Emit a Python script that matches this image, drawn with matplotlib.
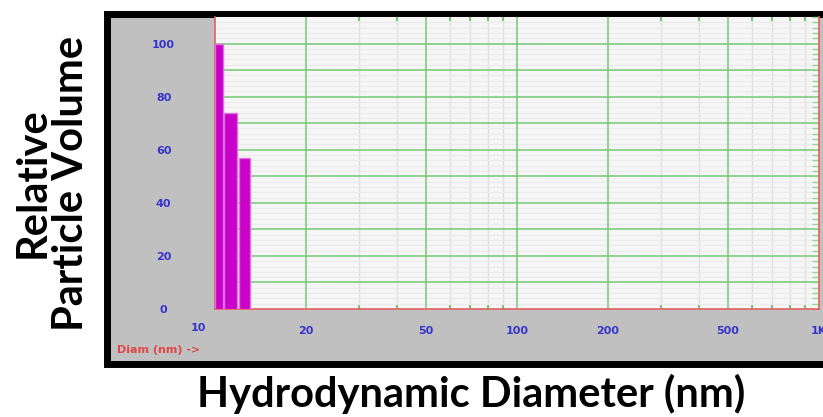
import matplotlib.pyplot as plt
from matplotlib.patches import Rectangle
from matplotlib.ticker import FixedLocator, MultipleLocator, NullFormatter

# bins de diametro (nm) y volumen relativo
bin_left = [10.0, 10.7, 12.0]
bin_right = [10.6, 11.8, 13.1]
volumen = [100, 74, 57]

xticks = [20, 50, 100, 200, 500, 1000]
xticklabels = ['20', '50', '100', '200', '500', '1K']
yticks = [0, 20, 40, 60, 80, 100]

W, H = 823, 417
fig = plt.figure(figsize=(W / 100, H / 100), dpi=100)

# marco gris con borde negro
fig.patches.append(Rectangle((107.5 / W, 1 - 363.5 / H), 740 / W, 350 / H,
                             transform=fig.transFigure, facecolor='#c0c0c0',
                             edgecolor='black', linewidth=5, zorder=-5))

ax = fig.add_axes([215 / W, 1 - 309 / H, 604 / W, 292 / H])
ax.set_zorder(2)
ax.set_facecolor('#f6f6f6')
ax.set_xscale('log')
ax.set_xlim(10, 1000)
ax.set_ylim(0, 110)

# rejilla
verde = '#74c874'
for v in [20, 50, 100, 200, 500]:
    ax.axvline(v, color=verde, lw=1.1, zorder=1)
for v in [30, 40, 60, 70, 80, 90, 300, 400, 600, 700, 800, 900]:
    ax.axvline(v, color='#e0e0e0', lw=1.0, zorder=0.5)
for v in range(10, 110, 10):
    ax.axhline(v, color=verde, lw=1.1, zorder=1)
for v in range(2, 110, 2):
    if v % 10:
        ax.axhline(v, color='#ebebeb', lw=0.8, zorder=0.5)

ax.bar(bin_left, volumen, width=[r - l for l, r in zip(bin_left, bin_right)],
       align='edge', color='#c800c8', edgecolor='#e070e0', linewidth=1, zorder=3)

for s in ['left', 'bottom', 'right']:
    ax.spines[s].set_color('#e06060')
    ax.spines[s].set_linewidth(1.2)
ax.spines['top'].set_visible(False)

tick_font = dict(color='#3535cc', fontsize=8, fontweight='bold')
ax.xaxis.set_major_locator(FixedLocator(xticks))
ax.set_xticklabels(xticklabels, **tick_font)
ax.xaxis.set_minor_formatter(NullFormatter())
ax.xaxis.set_minor_locator(FixedLocator([30, 40, 60, 70, 80, 90, 300, 400, 600, 700, 800, 900]))
ax.tick_params(axis='x', which='major', length=0, pad=12)
ax.tick_params(axis='x', which='minor', direction='in', length=3, color=verde,
               width=1.5, top=True, bottom=True)

ax.set_yticks(yticks)
ax.set_yticklabels([str(v) for v in yticks], **tick_font)
for lab in ax.get_yticklabels():
    lab.set_ha('center')
ax.tick_params(axis='y', which='major', length=0, pad=37)
ax.yaxis.set_minor_locator(MultipleLocator(2))
ax.tick_params(axis='y', which='minor', direction='in', length=5, color='#90d890',
               width=1, left=False, right=True)

ax.annotate('10', xy=(10, 0), xycoords=('data', 'axes fraction'),
            xytext=(-12, -14), textcoords='offset points', ha='center', va='center',
            annotation_clip=False, **tick_font)

fig.text(117 / W, 1 - 350 / H, 'Diam (nm) ->', color='#e04848', fontsize=8,
         fontweight='bold', ha='left', va='center')

fig.text(52 / W, 1 - 183 / H, 'Relative\nParticle Volume', rotation=90,
         fontsize=30, fontweight='bold', family='Lato', ha='center', va='center',
         linespacing=1.0)
fig.text(471 / W, 1 - 394 / H, 'Hydrodynamic Diameter (nm)', fontsize=30,
         fontweight='bold', family='Lato', ha='center', va='center')

fig.savefig('out.png', dpi=100)
